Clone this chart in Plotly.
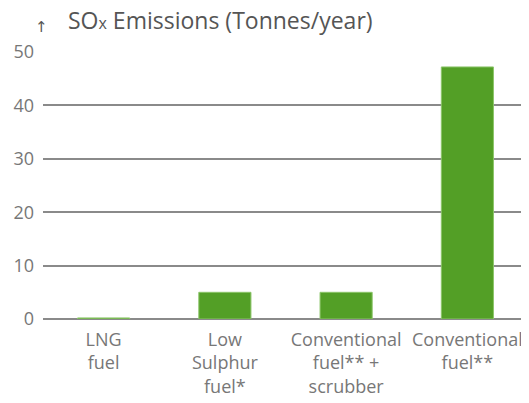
import plotly.graph_objects as go

categories = ["LNG<br>fuel", "Low<br>Sulphur<br>fuel*", "Conventional<br>fuel** +<br>scrubber", "Conventional<br>fuel**"]
sox_emissions = [0.2, 5, 5, 47.2]
y_ticks = [0, 10, 20, 30, 40, 50]

fig = go.Figure()

fig.add_trace(go.Bar(
    x=categories,
    y=sox_emissions,
    marker=dict(color="#539f26", line=dict(color="#8cc56a", width=1)),
    width=0.43,
))

# the page body adds an 8px offset, so the figure is a bit smaller than the window
fig.add_annotation(
    text="↑",
    xref="paper", yref="paper",
    x=-0.004, y=1.095, xanchor="center", yanchor="middle",
    showarrow=False,
    font=dict(family="DejaVu Sans", size=15, color="#555555"),
)
fig.add_annotation(
    text="SO<span style='font-size:16px'>x</span> Emissions (Tonnes/year)",
    xref="paper", yref="paper",
    x=0.047, y=1.118, xanchor="left", yanchor="middle",
    showarrow=False,
    font=dict(family="Open Sans", size=23, color="#555555"),
)

fig.update_layout(
    width=521, height=395,
    margin=dict(l=35, r=1, t=44, b=84),
    plot_bgcolor="white",
    paper_bgcolor="white",
    showlegend=False,
    bargap=0.57,
    font=dict(family="Open Sans", size=18, color="#777777"),
    xaxis=dict(
        showgrid=False,
        showline=False,
        automargin=False,
        tickfont=dict(size=18, color="#777777"),
        ticks="",
        ticklabelstandoff=8,
    ),
    yaxis=dict(
        range=[0, 50],
        tickvals=y_ticks,
        showgrid=True,
        gridcolor="#8a8a8a",
        gridwidth=1.5,
        zeroline=True,
        zerolinecolor="#8a8a8a",
        zerolinewidth=1.5,
        automargin=False,
        ticks="",
        ticklabelstandoff=8,
        tickfont=dict(size=18, color="#777777"),
    ),
)

fig.write_html("out.html")
